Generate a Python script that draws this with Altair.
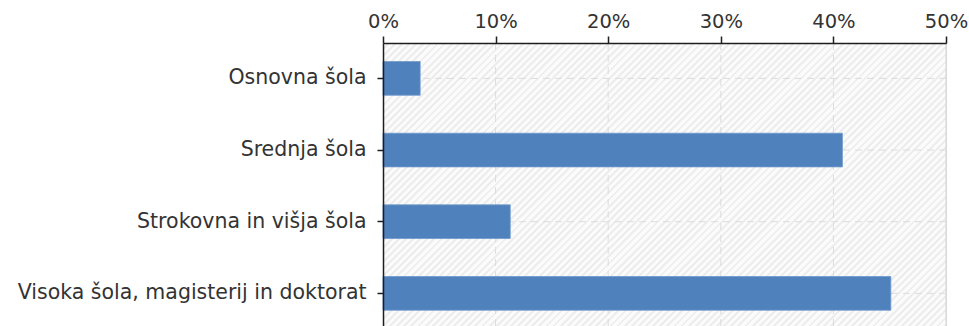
import altair as alt
import pandas as pd

categories = ["Osnovna šola", "Srednja šola", "Strokovna in višja šola",
              "Visoka šola, magisterij in doktorat"]
values = [3.3, 40.8, 11.3, 45.1]
tick_values = [0, 10, 20, 30, 40, 50]
grid_values = [10, 20, 30, 40]
x_max = 50

W, H = 563, 283

df = pd.DataFrame({"cat": categories, "val": values})
grid_df = pd.DataFrame({"t": grid_values})
bg_df = pd.DataFrame({"a": [0], "b": [x_max]})
edge_df = pd.DataFrame({"e": [x_max]})

# diagonal hatch as a striped linear gradient (style only)
x2n = (W + H) / (W + H * H / W)
y2n = x2n * H / W
D = (W + H) / 2 ** 0.5
period = 5.0
n = int(D / period)
stops = []
for k in range(n):
    a = k / n
    m = (k + 0.6) / n
    b = (k + 1) / n
    stops += [
        alt.GradientStop(offset=a, color="#fbfbfb"),
        alt.GradientStop(offset=m, color="#fbfbfb"),
        alt.GradientStop(offset=m, color="#ededed"),
        alt.GradientStop(offset=b, color="#ededed"),
    ]
hatch = alt.LinearGradient(gradient="linear", x1=0, y1=0, x2=x2n, y2=y2n, stops=stops)

xscale = alt.Scale(domain=[0, x_max], nice=False, zero=True)
yscale = alt.Scale(paddingInner=0.53, paddingOuter=0.24, align=0.54)

x_axis = alt.Axis(orient="top", values=tick_values, labelExpr="datum.value + '%'",
                  title=None, grid=False, tickSize=7, labelPadding=5, zindex=2,
                  domainColor="#1e1e1e", tickColor="#1e1e1e", domainWidth=1.5,
                  tickWidth=1.5, labelColor="#333333", labelFont="DejaVu Sans",
                  labelFontSize=19.5, labelFlush=False)
y_axis = alt.Axis(title=None, grid=False, tickSize=6, labelPadding=11, zindex=2,
                  domainColor="#1e1e1e", tickColor="#1e1e1e", domainWidth=1.5,
                  tickWidth=1.5, labelColor="#333333", labelFont="DejaVu Sans",
                  labelFontSize=20.5, labelLimit=500)

bg = alt.Chart(bg_df).mark_rect(fill=hatch).encode(
    x=alt.X("a:Q", scale=xscale, axis=x_axis, title=None),
    x2="b:Q",
)

vgrid = alt.Chart(grid_df).mark_rule(color="#dcdcdc", strokeDash=[7, 5], strokeWidth=1).encode(
    x=alt.X("t:Q", scale=xscale, axis=x_axis, title=None)
)

hgrid = alt.Chart(df).mark_rule(color="#dcdcdc", strokeDash=[7, 5], strokeWidth=1).encode(
    y=alt.Y("cat:N", sort=categories, scale=yscale, axis=y_axis, title=None)
)

edge = alt.Chart(edge_df).mark_rule(color="#d6d6d6", strokeWidth=1).encode(
    x=alt.X("e:Q", scale=xscale, axis=x_axis, title=None)
)

bars = alt.Chart(df).mark_bar(color="#4f81bd", stroke="#6e98cc", strokeWidth=0.8).encode(
    x=alt.X("val:Q", scale=xscale, axis=x_axis, title=None),
    y=alt.Y("cat:N", sort=categories, scale=yscale, axis=y_axis, title=None),
)

chart = alt.layer(bg, vgrid, hgrid, edge, bars).properties(
    width=W, height=H,
    autosize=alt.AutoSizeParams(type="none"),
    padding={"left": 383, "top": 43, "right": 969 - 383 - W, "bottom": 0},
).configure_view(stroke=None).configure(background="white")

chart.save("out.html", embed_options={"renderer": "svg", "actions": False})
